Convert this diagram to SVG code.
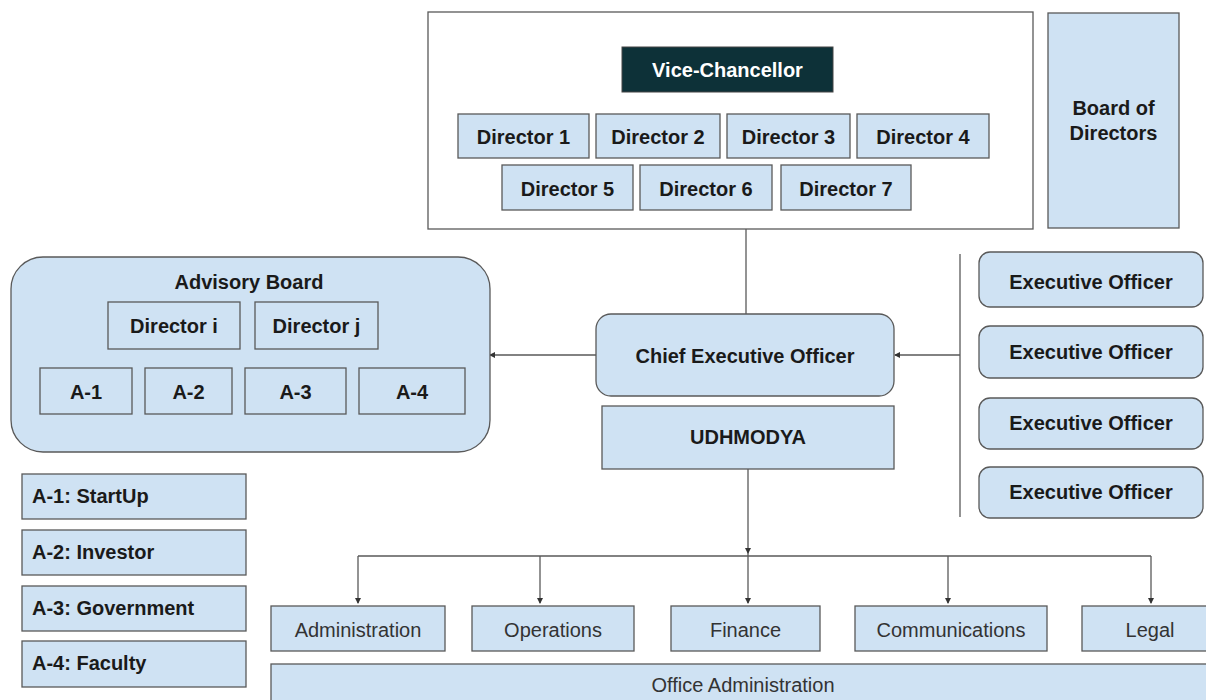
<svg xmlns="http://www.w3.org/2000/svg" width="1206" height="700" viewBox="0 0 1206 700">
<style>
.b{fill:#cfe2f3;stroke:#595959;stroke-width:1.3}
.bt{font-family:"Liberation Sans",Arial,sans-serif;font-weight:bold;font-size:20px;fill:#1a1a1a;text-anchor:middle}
.rt{font-family:"Liberation Sans",Arial,sans-serif;font-size:20px;fill:#333;text-anchor:middle}
.lt{font-family:"Liberation Sans",Arial,sans-serif;font-weight:bold;font-size:20px;fill:#1a1a1a}
.c{fill:none;stroke:#595959;stroke-width:1.3}
</style>
<defs>
<marker id="ah" markerWidth="6" markerHeight="6" refX="5" refY="3" orient="auto" markerUnits="userSpaceOnUse">
<path d="M0,0 L6,3 L0,6 Z" fill="#333"/>
</marker>
</defs>
<rect width="1206" height="700" fill="#fff"/>
<g id="connectors">
<line class="c" x1="746" y1="229" x2="746" y2="314"/>
<line class="c" x1="597" y1="355" x2="490" y2="355" marker-end="url(#ah)"/>
<line class="c" x1="960" y1="254" x2="960" y2="517"/>
<line class="c" x1="960" y1="355" x2="895" y2="355" marker-end="url(#ah)"/>
<line class="c" x1="748" y1="469" x2="748" y2="553" marker-end="url(#ah)"/>
<line class="c" x1="358" y1="556" x2="1151" y2="556"/>
<line class="c" x1="358" y1="556" x2="358" y2="603" marker-end="url(#ah)"/>
<line class="c" x1="540" y1="556" x2="540" y2="603" marker-end="url(#ah)"/>
<line class="c" x1="748" y1="553" x2="748" y2="603" marker-end="url(#ah)"/>
<line class="c" x1="948" y1="556" x2="948" y2="603" marker-end="url(#ah)"/>
<line class="c" x1="1151" y1="556" x2="1151" y2="603" marker-end="url(#ah)"/>
</g>
<g id="top-group">
<rect x="428" y="12" width="605" height="217" fill="#fff" stroke="#595959" stroke-width="1.3"/>
</g>
<g id="vice-chancellor">
<rect x="622" y="47" width="211" height="45" fill="#0d3138" stroke="#444"/>
<text class="bt" x="727.5" y="77" style="fill:#fff">Vice-Chancellor</text>
</g>
<g id="director-1"><rect class="b" x="458" y="114" width="131" height="44"/><text class="bt" x="523.5" y="144">Director 1</text></g>
<g id="director-2"><rect class="b" x="596" y="114" width="124" height="44"/><text class="bt" x="658" y="144">Director 2</text></g>
<g id="director-3"><rect class="b" x="727" y="114" width="123" height="44"/><text class="bt" x="788.5" y="144">Director 3</text></g>
<g id="director-4"><rect class="b" x="857" y="114" width="132" height="44"/><text class="bt" x="923" y="144">Director 4</text></g>
<g id="director-5"><rect class="b" x="502" y="165" width="131" height="45"/><text class="bt" x="567.5" y="196">Director 5</text></g>
<g id="director-6"><rect class="b" x="640" y="165" width="132" height="45"/><text class="bt" x="706" y="196">Director 6</text></g>
<g id="director-7"><rect class="b" x="781" y="165" width="130" height="45"/><text class="bt" x="846" y="196">Director 7</text></g>
<g id="board-of-directors">
<rect class="b" x="1048" y="13" width="131" height="215"/>
<text class="bt" x="1113.5" y="115">Board of</text>
<text class="bt" x="1113.5" y="140">Directors</text>
</g>
<g id="advisory-board">
<rect class="b" x="11" y="257" width="479" height="195" rx="32"/>
<text class="bt" x="249" y="289">Advisory Board</text>
</g>
<g id="director-i"><rect class="b" x="108" y="302" width="132" height="47"/><text class="bt" x="174" y="333">Director i</text></g>
<g id="director-j"><rect class="b" x="255" y="302" width="123" height="47"/><text class="bt" x="316.5" y="333">Director j</text></g>
<g id="a-1"><rect class="b" x="40" y="368" width="92" height="46"/><text class="bt" x="86" y="399">A-1</text></g>
<g id="a-2"><rect class="b" x="145" y="368" width="87" height="46"/><text class="bt" x="188.5" y="399">A-2</text></g>
<g id="a-3"><rect class="b" x="245" y="368" width="101" height="46"/><text class="bt" x="295.5" y="399">A-3</text></g>
<g id="a-4"><rect class="b" x="359" y="368" width="106" height="46"/><text class="bt" x="412" y="399">A-4</text></g>
<g id="ceo"><rect class="b" x="596" y="314" width="298" height="82" rx="15"/><text class="bt" x="745" y="363">Chief Executive Officer</text></g>
<g id="udhmodya"><rect class="b" x="602" y="406" width="292" height="63"/><text class="bt" x="748" y="444">UDHMODYA</text></g>
<g id="exec-1"><rect class="b" x="979" y="252" width="224" height="55" rx="11"/><text class="bt" x="1091" y="289">Executive Officer</text></g>
<g id="exec-2"><rect class="b" x="979" y="326" width="224" height="52" rx="11"/><text class="bt" x="1091" y="359">Executive Officer</text></g>
<g id="exec-3"><rect class="b" x="979" y="398" width="224" height="51" rx="11"/><text class="bt" x="1091" y="430">Executive Officer</text></g>
<g id="exec-4"><rect class="b" x="979" y="467" width="224" height="51" rx="11"/><text class="bt" x="1091" y="499">Executive Officer</text></g>
<g id="legend-1"><rect class="b" x="22" y="474" width="224" height="45"/><text class="lt" x="32" y="503">A-1: StartUp</text></g>
<g id="legend-2"><rect class="b" x="22" y="530" width="224" height="45"/><text class="lt" x="32" y="559">A-2: Investor</text></g>
<g id="legend-3"><rect class="b" x="22" y="586" width="224" height="45"/><text class="lt" x="32" y="615">A-3: Government</text></g>
<g id="legend-4"><rect class="b" x="22" y="641" width="224" height="46"/><text class="lt" x="32" y="670">A-4: Faculty</text></g>
<g id="administration"><rect class="b" x="271" y="606" width="174" height="45"/><text class="rt" x="358" y="637">Administration</text></g>
<g id="operations"><rect class="b" x="472" y="606" width="162" height="45"/><text class="rt" x="553" y="637">Operations</text></g>
<g id="finance"><rect class="b" x="671" y="606" width="149" height="45"/><text class="rt" x="745.5" y="637">Finance</text></g>
<g id="communications"><rect class="b" x="855" y="606" width="192" height="45"/><text class="rt" x="951" y="637">Communications</text></g>
<g id="legal"><rect class="b" x="1082" y="606" width="130" height="45"/><text class="rt" x="1150" y="637">Legal</text></g>
<g id="office-administration"><rect class="b" x="271" y="664" width="945" height="50"/><text class="rt" x="743" y="692">Office Administration</text></g>
</svg>
